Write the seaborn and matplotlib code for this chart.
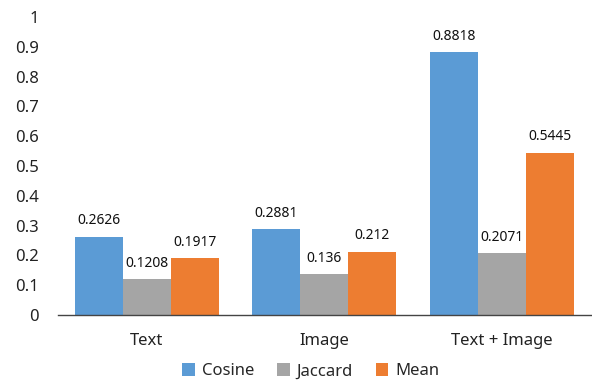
import matplotlib
matplotlib.use("Agg")
import matplotlib.pyplot as plt
import seaborn as sns
import pandas as pd

categories = ["Text", "Image", "Text + Image"]
series = ["Cosine", "Jaccard", "Mean"]
cosine = [0.2626, 0.2881, 0.8818]
jaccard = [0.1208, 0.136, 0.2071]
mean = [0.1917, 0.212, 0.5445]
colors = ["#5B9BD5", "#A5A5A5", "#ED7D31"]

rows = []
for s, vals in zip(series, [cosine, jaccard, mean]):
    for c, v in zip(categories, vals):
        rows.append({"category": c, "series": s, "value": v})
df = pd.DataFrame(rows)

sns.set_theme(style="white")
plt.rcParams['font.family'] = ['Noto Sans', 'DejaVu Sans']

fig = plt.figure(figsize=(5.92, 3.86), dpi=100)
ax = fig.add_axes([0.098, 0.184, 0.9, 0.772])
sns.barplot(data=df, x="category", y="value", hue="series", order=categories,
            hue_order=series, palette=colors, width=0.81, saturation=1,
            linewidth=0, edgecolor="none", ax=ax, legend=True)

for cont in ax.containers:
    ax.bar_label(cont, fmt="{:g}", padding=6, fontsize=10, color="#111111")

ax.set_ylim(0, 1)
ax.set_yticks([i / 10 for i in range(11)])
ax.set_yticklabels(["0"] + [f"{i/10:g}" for i in range(1, 10)] + ["1"])
ax.set_xlabel("")
ax.set_ylabel("")
ax.tick_params(axis="both", labelsize=12, length=0, colors="#222222")
ax.tick_params(axis="x", pad=13)
ax.tick_params(axis="y", pad=14)
for sp in ["top", "right", "left"]:
    ax.spines[sp].set_visible(False)
ax.spines["bottom"].set_color("#444444")
ax.spines["bottom"].set_linewidth(1)

h, l = ax.get_legend_handles_labels()
ax.legend(h, l, loc="center", bbox_to_anchor=(0.525, 0.038),
          bbox_transform=fig.transFigure, ncol=3,
          frameon=False, fontsize=12, handlelength=0.75, handleheight=0.75,
          handletextpad=0.4, columnspacing=1.4, borderpad=0.1)

fig.savefig("out.png", dpi=100)
